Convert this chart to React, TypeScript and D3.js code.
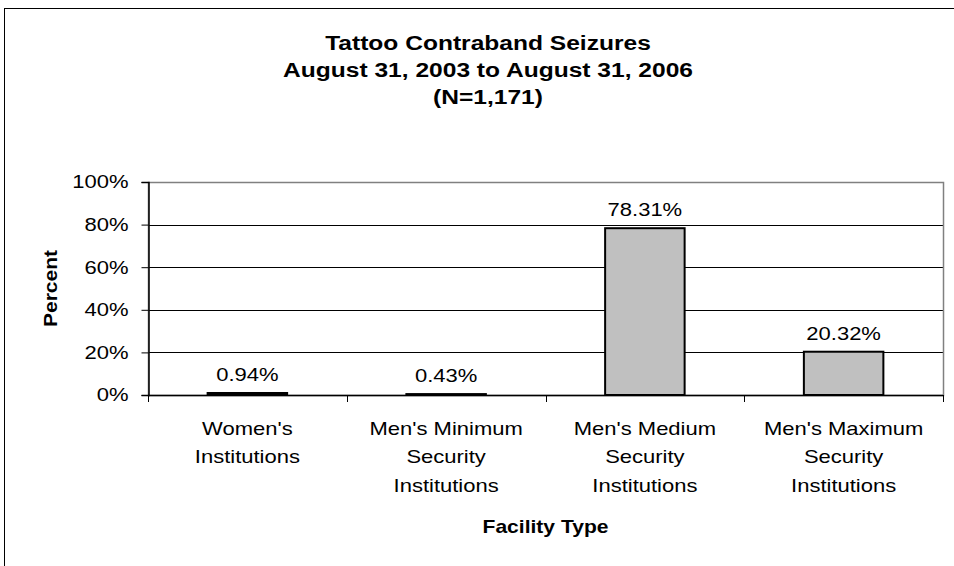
import * as d3 from "d3";
import { useEffect, useRef } from "react";

const categories = [
  ["Women's", "Institutions"],
  ["Men's Minimum", "Security", "Institutions"],
  ["Men's Medium", "Security", "Institutions"],
  ["Men's Maximum", "Security", "Institutions"],
];
const values = [0.94, 0.43, 78.31, 20.32];
const yTicks = [0, 20, 40, 60, 80, 100];
const titleLines = [
  "Tattoo Contraband Seizures",
  "August 31, 2003 to August 31, 2006",
  "(N=1,171)",
];

const FONT = "Arial, 'Liberation Sans', sans-serif";
const SX = 1.17; // the source picture's text runs wider than plain Arial

const App: React.FC = () => {
  const ref = useRef<SVGSVGElement>(null);

  useEffect(() => {
    if (!ref.current) return;
    const width = 954;
    const height = 566;
    const plot = { left: 148, top: 182, right: 943, bottom: 395 };

    const svg = d3.select(ref.current);
    svg.selectAll("*").remove();

    svg.append("rect").attr("width", width).attr("height", height).attr("fill", "white");

    // outer chart border (runs off the right/bottom edge)
    svg
      .append("rect")
      .attr("x", 4.5)
      .attr("y", 8.5)
      .attr("width", width + 10)
      .attr("height", height + 10)
      .attr("fill", "none")
      .attr("stroke", "black")
      .attr("stroke-width", 1);

    const idx = d3.range(values.length).map(String);
    const x = d3
      .scaleBand<string>()
      .domain(idx)
      .range([plot.left, plot.right])
      .paddingInner(0)
      .paddingOuter(0);
    const cx = (i: number) => (x(String(i)) as number) + x.bandwidth() / 2;

    const y = d3.scaleLinear().domain([0, 100]).range([plot.bottom, plot.top]);

    // gridlines
    svg
      .append("g")
      .selectAll("line")
      .data(yTicks.filter((t) => t > 0 && t < 100))
      .enter()
      .append("line")
      .attr("x1", plot.left)
      .attr("x2", plot.right)
      .attr("y1", (d) => Math.round(y(d)) + 0.5)
      .attr("y2", (d) => Math.round(y(d)) + 0.5)
      .attr("stroke", "black")
      .attr("stroke-width", 1);

    // plot area border (gray)
    svg
      .append("rect")
      .attr("x", plot.left + 0.5)
      .attr("y", plot.top + 0.5)
      .attr("width", plot.right - plot.left)
      .attr("height", plot.bottom - plot.top)
      .attr("fill", "none")
      .attr("stroke", "#808080")
      .attr("stroke-width", 1.5);

    // bars
    const barW = x.bandwidth() / 2.5;
    svg
      .append("g")
      .selectAll("rect")
      .data(values)
      .enter()
      .append("rect")
      .attr("x", (_d, i) => cx(i) - barW / 2)
      .attr("y", (d) => y(d))
      .attr("width", barW)
      .attr("height", (d) => plot.bottom - y(d))
      .attr("fill", "#C0C0C0")
      .attr("stroke", "black")
      .attr("stroke-width", 2);

    // value labels
    svg
      .append("g")
      .selectAll("text")
      .data(values)
      .enter()
      .append("text")
      .attr("transform", (d, i) => `translate(${cx(i)},${y(d) - 12}) scale(${SX},1)`)
      .attr("text-anchor", "middle")
      .style("font-family", FONT)
      .style("font-size", "18.8px")
      .text((d) => d.toFixed(2) + "%");

    // y axis: line + ticks from d3, labels drawn separately so they can be widened
    const yAxis = svg
      .append("g")
      .attr("transform", `translate(${plot.left + 0.5},0)`)
      .call(d3.axisLeft(y).tickValues(yTicks).tickSize(7).tickFormat(() => ""));
    yAxis.select(".domain").attr("stroke", "black").attr("stroke-width", 1.5);
    yAxis.selectAll(".tick line").attr("stroke", "black");

    svg
      .append("g")
      .selectAll("text")
      .data(yTicks)
      .enter()
      .append("text")
      .attr("transform", (d) => `translate(128.5,${y(d)}) scale(${SX},1)`)
      .attr("dy", "0.34em")
      .attr("text-anchor", "end")
      .style("font-family", FONT)
      .style("font-size", "18.8px")
      .text((d) => `${d}%`);

    // x axis line and category ticks
    svg
      .append("line")
      .attr("x1", plot.left)
      .attr("x2", plot.right)
      .attr("y1", plot.bottom + 0.5)
      .attr("y2", plot.bottom + 0.5)
      .attr("stroke", "black")
      .attr("stroke-width", 1.5);

    const boundaries = idx.map((d) => x(d) as number).concat([plot.right]);
    svg
      .append("g")
      .selectAll("line")
      .data(boundaries)
      .enter()
      .append("line")
      .attr("x1", (d) => Math.round(d) + 0.5)
      .attr("x2", (d) => Math.round(d) + 0.5)
      .attr("y1", plot.bottom)
      .attr("y2", plot.bottom + 7)
      .attr("stroke", "black");

    // category labels
    const catG = svg
      .append("g")
      .selectAll("text")
      .data(categories)
      .enter()
      .append("text")
      .attr("transform", (_d, i) => `translate(${cx(i)},435) scale(${SX},1)`)
      .attr("text-anchor", "middle")
      .style("font-family", FONT)
      .style("font-size", "18.8px");
    catG
      .selectAll("tspan")
      .data((d) => d)
      .enter()
      .append("tspan")
      .attr("x", 0)
      .attr("y", (_d, j) => j * 28.3)
      .text((d) => d);

    // title
    svg
      .append("g")
      .selectAll("text")
      .data(titleLines)
      .enter()
      .append("text")
      .attr("transform", (_d, i) => `translate(488,${49.5 + i * 27.3}) scale(${SX},1)`)
      .attr("text-anchor", "middle")
      .style("font-family", FONT)
      .style("font-size", "21px")
      .style("font-weight", "bold")
      .text((d) => d);

    // axis titles
    svg
      .append("text")
      .attr(
        "transform",
        `translate(56.5,${(plot.top + plot.bottom) / 2}) rotate(-90) scale(${SX},1)`
      )
      .attr("text-anchor", "middle")
      .style("font-family", FONT)
      .style("font-size", "18px")
      .style("font-weight", "bold")
      .text("Percent");

    svg
      .append("text")
      .attr("transform", `translate(${(plot.left + plot.right) / 2},533) scale(${SX},1)`)
      .attr("text-anchor", "middle")
      .style("font-family", FONT)
      .style("font-size", "18px")
      .style("font-weight", "bold")
      .text("Facility Type");
  }, []);

  return (
    <svg
      ref={ref}
      width={954}
      height={566}
      style={{ position: "absolute", left: 0, top: 0 }}
    ></svg>
  );
};

export default App;
